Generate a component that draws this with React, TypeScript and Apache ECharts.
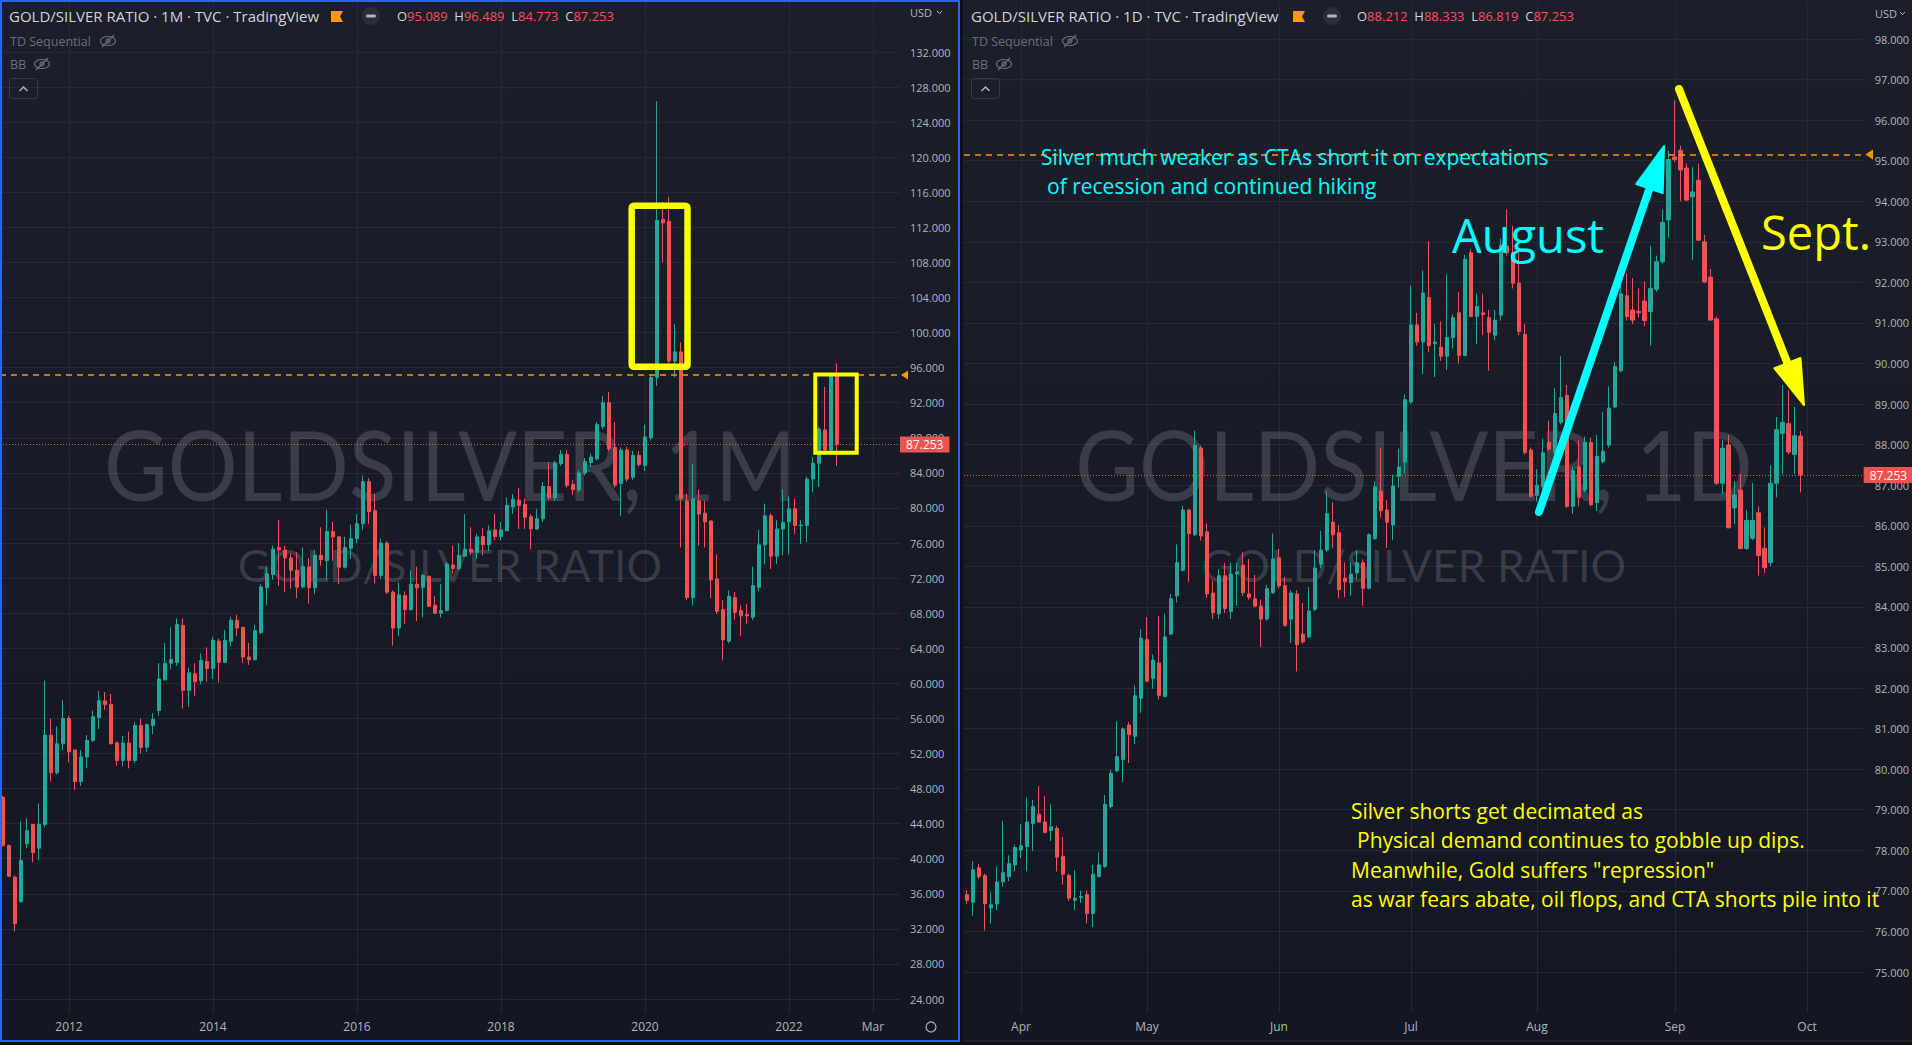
import React, { useEffect, useRef } from 'react';
import * as echarts from 'echarts';

// ---------------- DATA ----------------
// Monthly candles [open, high, low, close]  (Feb 2011 .. Sep 2022)
const m2011 = [
  [47.0, 47.2, 41.4, 41.5], [41.5, 41.6, 37.9, 38.0], [37.9, 38.1, 31.7, 32.6], [35.1, 44.3, 35.0, 39.8],
  [41.7, 44.6, 41.2, 43.2], [43.9, 43.9, 39.6, 40.7], [41.2, 46.3, 39.8, 43.9], [43.9, 60.3, 43.6, 54.1],
  [54.1, 56.0, 48.8, 49.8], [49.8, 55.1, 49.6, 53.1], [53.1, 58.1, 52.4, 56.0],
];
const m2012 = [
  [56.0, 56.3, 51.0, 52.2], [52.4, 52.4, 47.8, 48.8], [48.8, 52.4, 48.3, 51.6], [51.6, 54.1, 50.3, 53.5],
  [53.5, 56.9, 53.3, 56.2], [56.1, 59.1, 54.8, 58.0], [58.0, 59.0, 57.0, 57.6], [57.6, 58.8, 53.1, 53.1],
  [53.2, 53.4, 50.6, 51.2], [51.2, 54.0, 50.5, 53.2], [53.2, 54.5, 50.3, 51.2], [51.2, 55.6, 50.9, 55.2],
];
const m2013 = [
  [55.2, 56.0, 52.0, 52.7], [52.7, 55.4, 52.2, 55.3], [55.2, 56.6, 54.2, 55.9], [56.9, 62.3, 56.3, 60.5],
  [60.4, 64.6, 60.3, 62.3], [62.3, 66.4, 61.6, 62.7], [62.4, 67.4, 62.0, 66.7], [66.6, 67.4, 57.1, 59.2],
  [59.2, 61.8, 57.3, 61.2], [61.1, 62.3, 58.6, 60.2], [60.3, 63.4, 59.9, 62.6], [62.5, 64.1, 60.2, 61.7],
];
const m2014 = [
  [61.7, 65.3, 60.5, 64.9], [64.8, 65.1, 60.1, 62.4], [62.4, 66.1, 62.3, 64.9], [64.8, 67.6, 64.2, 67.2],
  [67.2, 67.8, 65.4, 66.3], [66.4, 66.4, 62.3, 63.0], [63.0, 64.6, 62.1, 62.7], [62.7, 66.7, 62.6, 66.0],
  [65.8, 71.3, 65.6, 71.0], [70.9, 73.3, 68.9, 72.5], [72.4, 75.7, 71.8, 75.3], [75.5, 78.6, 71.1, 75.2],
];
const m2015 = [
  [75.2, 75.7, 70.4, 74.3], [74.3, 74.8, 70.8, 72.9], [72.9, 74.96, 69.7, 70.96], [71.0, 75.5, 70.8, 73.3],
  [73.3, 74.3, 69.1, 70.9], [70.9, 75.2, 70.2, 74.6], [74.6, 77.8, 73.4, 74.1], [74.0, 79.8, 71.8, 77.3],
  [77.3, 78.4, 74.0, 76.7], [76.7, 76.8, 71.3, 73.25], [73.25, 76.7, 73.1, 75.5], [75.4, 78.1, 74.2, 76.5],
];
const m2016 = [
  [76.5, 79.3, 76.0, 78.2], [78.2, 83.7, 77.5, 83.0], [83.0, 83.4, 78.2, 79.6], [79.7, 81.6, 71.4, 72.3],
  [72.3, 76.5, 71.9, 76.0], [76.0, 76.2, 70.2, 70.4], [70.4, 70.6, 64.3, 66.3], [66.3, 71.5, 65.4, 70.1],
  [70.0, 70.5, 66.8, 68.4], [68.4, 72.9, 68.3, 71.3], [71.3, 73.3, 67.1, 70.9], [70.96, 72.5, 67.5, 72.3],
];
const m2017 = [
  [72.2, 72.3, 68.7, 68.8], [68.9, 70.0, 67.9, 68.0], [68.0, 71.3, 67.5, 68.3], [68.3, 73.8, 68.2, 73.6],
  [73.5, 75.7, 72.5, 73.1], [73.1, 76.0, 72.9, 74.6], [74.5, 79.3, 74.4, 75.3], [75.3, 77.8, 74.6, 74.96],
  [74.96, 77.05, 74.2, 76.7], [76.75, 77.7, 74.6, 75.8], [75.8, 78.0, 75.1, 77.4], [77.5, 79.3, 76.3, 76.75],
];
const m2018 = [
  [76.75, 78.4, 76.3, 77.5], [77.4, 81.2, 77.35, 80.3], [80.1, 81.6, 79.3, 81.0], [80.9, 82.3, 77.6, 80.3],
  [80.4, 81.05, 77.6, 78.95], [79.0, 79.3, 75.3, 77.6], [77.6, 79.9, 77.5, 78.76], [78.76, 82.95, 78.4, 82.45],
  [82.45, 85.2, 80.9, 81.16], [81.16, 85.4, 80.8, 85.1], [85.05, 86.6, 84.8, 86.1], [86.1, 86.6, 82.3, 82.57],
];
const m2019 = [
  [82.7, 83.2, 81.5, 82.07], [82.07, 84.3, 81.8, 84.0], [84.0, 85.7, 83.7, 85.3], [85.2, 86.2, 84.7, 85.8],
  [85.6, 89.8, 85.4, 89.5], [89.3, 92.8, 89.0, 92.0], [92.0, 93.2, 86.5, 86.75], [86.9, 89.8, 82.3, 82.6],
  [82.8, 86.9, 79.1, 86.6], [86.6, 87.0, 83.0, 83.3], [83.5, 86.5, 83.2, 86.0], [86.0, 86.5, 84.7, 84.96],
];
const m2020 = [
  [84.85, 89.5, 84.2, 88.1], [88.0, 95.2, 87.7, 94.9], [94.9, 126.4, 93.9, 112.8], [112.9, 114.9, 108.0, 112.5],
  [112.7, 115.5, 96.5, 96.76], [96.76, 101.0, 94.9, 97.8], [97.8, 98.9, 75.5, 81.05], [80.8, 81.6, 69.5, 69.8],
  [69.75, 85.0, 68.9, 81.05], [80.8, 82.1, 75.7, 79.3], [79.4, 80.8, 75.5, 78.4], [78.5, 78.6, 69.75, 71.8],
];
const m2021 = [
  [71.9, 74.7, 67.9, 68.2], [68.4, 69.5, 62.6, 64.95], [64.8, 70.6, 64.57, 69.9], [69.8, 70.4, 67.3, 68.1],
  [68.3, 68.9, 65.4, 67.7], [67.84, 69.06, 66.8, 67.7], [67.54, 73.3, 67.2, 71.15], [70.96, 77.5, 70.5, 75.8],
  [75.8, 80.5, 73.6, 79.1], [79.1, 79.4, 73.06, 74.5], [74.5, 78.6, 73.6, 77.6], [77.6, 82.1, 74.6, 78.35],
];
const m2022 = [
  [78.4, 81.3, 74.7, 79.9], [79.9, 81.05, 77.05, 78.0], [78.0, 78.6, 75.9, 78.05], [78.0, 83.6, 76.1, 83.3],
  [83.3, 85.8, 81.8, 85.1], [85.1, 89.3, 82.4, 89.0], [88.9, 93.8, 86.4, 86.6], [86.6, 95.1, 86.4, 95.0],
  [95.089, 96.489, 84.773, 87.253],
];

// Daily candles [open, high, low, close]  (21 Mar 2022 .. 30 Sep 2022, weekdays)
const dMar = [
  [76.91, 77.01, 76.68, 76.77], [76.72, 77.73, 76.39, 77.52], [77.57, 77.67, 77.29, 77.35], [77.38, 77.43, 76.02, 76.69],
  [76.58, 76.96, 76.2, 76.66], [76.68, 77.6, 76.53, 77.22], [77.22, 78.73, 77.1, 77.45], [77.35, 77.88, 77.24, 77.67],
  [77.64, 78.14, 77.48, 78.07],
];
const dApr = [
  [78.01, 78.64, 77.81, 78.11], [78.09, 79.3, 77.48, 78.7], [78.66, 79.24, 77.98, 79.08], [78.89, 79.58, 78.68, 78.7],
  [78.7, 79.34, 78.42, 78.44], [78.49, 79.13, 78.23, 78.58], [78.54, 78.61, 77.48, 77.83], [77.85, 78.33, 77.15, 77.41],
  [77.38, 77.43, 76.75, 76.82], [76.77, 77.51, 76.53, 76.82], [76.84, 77.0, 76.7, 76.86], [76.91, 77.01, 76.2, 76.44],
  [76.44, 77.64, 76.11, 77.41], [77.35, 77.95, 77.34, 77.64], [77.6, 79.36, 77.57, 79.13], [79.08, 79.98, 79.03, 79.9],
  [79.96, 81.18, 79.93, 80.31], [80.24, 81.03, 79.68, 80.99], [81.09, 81.16, 80.15, 80.85], [80.81, 82.07, 80.62, 81.81],
  [81.75, 83.45, 81.39, 83.23],
];
const dMay = [
  [83.2, 83.75, 82.15, 82.17], [82.24, 82.83, 81.98, 82.69], [82.62, 83.77, 81.72, 81.82], [81.79, 83.83, 81.77, 83.26],
  [83.33, 84.32, 83.3, 84.2], [84.27, 85.54, 84.11, 85.09], [84.9, 86.49, 84.88, 86.39], [86.39, 86.41, 84.62, 85.81],
  [85.78, 88.35, 85.75, 87.98], [87.92, 87.98, 85.64, 85.75], [85.85, 86.06, 84.22, 84.32], [84.34, 84.65, 83.7, 83.86],
  [83.83, 84.93, 83.7, 84.77], [84.77, 85.09, 83.85, 83.96], [83.89, 85.09, 83.7, 84.81], [84.81, 85.09, 84.03, 84.86],
  [85.03, 85.35, 84.27, 84.35], [84.32, 85.18, 84.18, 84.24], [84.2, 84.79, 83.99, 84.02], [84.02, 84.18, 83.02, 83.7],
  [83.7, 84.54, 83.66, 84.45], [84.35, 85.81, 84.32, 85.18],
];
const dJun = [
  [85.21, 85.43, 84.46, 84.52], [84.52, 84.74, 83.52, 83.54], [83.7, 84.41, 83.11, 84.34], [84.32, 84.41, 82.41, 83.07],
  [83.33, 84.1, 83.09, 83.14], [83.26, 84.49, 83.23, 83.9], [83.94, 85.4, 83.89, 84.96], [85.05, 85.87, 84.96, 85.4],
  [85.4, 86.86, 85.35, 86.3], [86.09, 86.58, 85.45, 85.78], [85.83, 86.02, 84.22, 84.43], [84.71, 85.09, 84.24, 84.62],
  [84.6, 85.09, 84.27, 84.81], [84.84, 85.4, 84.69, 85.09], [85.09, 85.17, 84.03, 84.46], [84.46, 85.81, 84.43, 85.78],
  [85.68, 87.1, 85.66, 86.96], [86.86, 87.92, 86.2, 86.37], [86.39, 86.63, 85.45, 86.09], [86.02, 87.26, 85.64, 86.98],
  [87.22, 87.9, 86.94, 87.45], [87.57, 89.24, 87.29, 89.11],
];
const dJul = [
  [89.05, 91.92, 89.01, 90.95], [90.95, 91.25, 90.44, 90.53], [90.53, 92.29, 89.74, 91.74], [91.63, 93.01, 90.28, 90.44],
  [90.49, 90.97, 89.67, 90.53], [90.4, 91.04, 90.07, 90.18], [90.18, 92.2, 89.84, 90.64], [90.64, 91.21, 90.37, 91.13],
  [91.25, 91.76, 90.0, 90.2], [90.2, 92.68, 90.18, 92.57], [92.73, 92.82, 91.14, 91.16], [91.16, 91.72, 90.48, 91.41],
  [91.25, 91.72, 90.7, 91.21], [91.13, 91.32, 89.82, 90.77], [90.7, 91.32, 90.57, 91.07], [91.19, 93.08, 91.06, 92.92],
  [92.9, 93.8, 92.66, 92.73], [92.73, 93.39, 91.85, 91.98], [91.98, 92.73, 90.7, 90.79], [90.72, 90.97, 87.76, 87.8],
  [87.87, 87.93, 86.7, 86.73],
];
const dAug = [
  [86.75, 87.4, 86.6, 87.0], [86.96, 88.15, 86.79, 87.8], [88.06, 88.59, 87.84, 87.89], [87.8, 89.4, 87.76, 88.77],
  [88.55, 90.18, 88.5, 89.16], [89.21, 89.47, 86.44, 86.48], [86.48, 87.45, 86.29, 87.36], [87.45, 88.11, 86.48, 86.7],
  [86.88, 88.2, 86.83, 88.06], [88.05, 88.17, 86.48, 86.52], [86.57, 88.24, 86.37, 87.71], [87.58, 88.81, 87.54, 87.84],
  [87.99, 89.43, 87.93, 88.9], [88.93, 90.04, 88.9, 89.93], [89.82, 92.2, 89.78, 91.72], [91.67, 92.22, 91.06, 91.16],
  [91.32, 92.11, 90.97, 91.07], [91.29, 91.85, 91.14, 91.25], [91.54, 92.02, 90.92, 91.06], [91.28, 92.9, 90.44, 91.85],
  [91.83, 92.66, 91.76, 92.51], [92.51, 93.8, 92.46, 93.48], [93.54, 95.25, 93.1, 95.03],
];
const dSep = [
  [95.089, 96.489, 94.97, 95.03], [95.26, 95.37, 94.0, 94.77], [94.82, 94.93, 94.0, 94.03], [94.11, 94.84, 92.55, 94.23],
  [94.52, 94.93, 93.04, 93.04], [93.0, 93.17, 91.98, 92.01], [92.13, 92.33, 91.06, 91.07], [91.1, 91.16, 87.01, 87.05],
  [87.05, 88.11, 86.79, 87.91], [87.99, 88.24, 85.94, 85.95], [86.44, 87.1, 86.04, 86.76], [86.88, 87.27, 85.42, 85.44],
  [85.44, 86.39, 85.41, 86.13], [85.69, 87.05, 85.64, 86.13], [86.32, 86.48, 84.773, 85.27], [85.44, 85.96, 84.83, 84.97],
  [85.09, 87.49, 85.0, 87.05], [87.05, 88.68, 86.7, 88.37], [88.28, 89.47, 87.27, 88.55], [88.52, 89.34, 87.76, 87.82],
  [87.76, 88.93, 87.27, 88.22], [88.212, 88.333, 86.819, 87.253],
];

const monthlyOHLC = [...m2011, ...m2012, ...m2013, ...m2014, ...m2015, ...m2016, ...m2017, ...m2018, ...m2019, ...m2020, ...m2021, ...m2022];
const dailyOHLC = [...dMar, ...dApr, ...dMay, ...dJun, ...dJul, ...dAug, ...dSep];

// Time-axis tick labels
const monthlyTickLabels: Record<string, string> = {
  '2012-01': '2012', '2014-01': '2014', '2016-01': '2016', '2018-01': '2018',
  '2020-01': '2020', '2022-01': '2022', '2023-03': 'Mar',
};
const dailyTickLabels: Record<string, string> = {
  '2022-04-01': 'Apr', '2022-05-02': 'May', '2022-06-01': 'Jun', '2022-07-01': 'Jul',
  '2022-08-01': 'Aug', '2022-09-01': 'Sep', '2022-10-03': 'Oct',
};
// Price scales
const leftScale = { min: 24, max: 132, step: 4 };
const rightScale = { min: 75, max: 98, step: 1 };
const alertLevel = 95.15;

// ---------------- HELPERS ----------------
function monthCategories(y0: number, m0: number, count: number): string[] {
  const out: string[] = [];
  let y = y0, m = m0;
  for (let i = 0; i < count; i++) {
    out.push(`${y}-${String(m).padStart(2, '0')}`);
    m++;
    if (m > 12) { m = 1; y++; }
  }
  return out;
}
function weekdayCategories(start: string, count: number): string[] {
  const out: string[] = [];
  const d = new Date(start + 'T00:00:00Z');
  while (out.length < count) {
    const wd = d.getUTCDay();
    if (wd !== 0 && wd !== 6) out.push(d.toISOString().slice(0, 10));
    d.setUTCDate(d.getUTCDate() + 1);
  }
  return out;
}
const toCandle = (r: number[]) => [r[0], r[3], r[2], r[1]];

const monthCats = monthCategories(2011, 2, 150);
const dayCats = weekdayCategories('2022-03-21', 150);

const UP = '#26a69a';
const DOWN = '#ef5350';
const GRIDC = '#252934';
const AXISC = '#b2b5be';
const FONT = '"Open Sans", "Noto Sans", sans-serif';

function frameX(gridIndex: number, cats: string[], labels: Record<string, string>) {
  const pick = (_i: number, v: string) => Object.prototype.hasOwnProperty.call(labels, v);
  return {
    gridIndex, type: 'category', data: cats, boundaryGap: false,
    axisLine: { show: false }, axisTick: { show: false },
    axisLabel: {
      interval: pick, formatter: (v: string) => labels[v] || '',
      color: AXISC, fontSize: 12, fontFamily: FONT, margin: 7,
    },
    splitLine: { show: true, interval: pick, lineStyle: { color: GRIDC, width: 1 } },
  };
}
function priceY(gridIndex: number, sc: { min: number; max: number; step: number }, margin: number) {
  return {
    gridIndex, type: 'value', position: 'right', min: sc.min, max: sc.max, interval: sc.step,
    axisLine: { show: false }, axisTick: { show: false },
    axisLabel: { formatter: (v: number) => v.toFixed(3), color: AXISC, fontSize: 11, fontFamily: FONT, margin },
    splitLine: { show: true, lineStyle: { color: GRIDC, width: 1 } },
  };
}
function candleSeries(xi: number, yi: number, rows: number[][]) {
  const last = rows[rows.length - 1][3];
  return {
    type: 'candlestick', xAxisIndex: xi, yAxisIndex: yi, data: rows.map(toCandle), barWidth: 4,
    itemStyle: { color: UP, color0: DOWN, borderColor: UP, borderColor0: DOWN, borderWidth: 1 },
    markLine: {
      silent: true, symbol: ['none', 'none'], animation: false,
      data: [
        { yAxis: alertLevel, lineStyle: { color: '#ff9800', type: [6, 5], width: 1.5 }, label: { show: false } },
        {
          yAxis: last, lineStyle: { color: DOWN, type: [1, 2], width: 1 },
          label: {
            show: true, position: 'end', distance: 0, formatter: last.toFixed(3), color: '#ffffff',
            backgroundColor: DOWN, padding: [2, 6, 2, 6], fontSize: 12, fontFamily: FONT,
          },
        },
      ],
    },
  };
}

function txt(x: number, y: number, text: string, size: number, fill: string, extra: any = {}) {
  return {
    type: 'text', x, y, z: 10, silent: true,
    style: { text, fill, font: `${size}px ${FONT}`, textAlign: 'left', textVerticalAlign: 'middle', ...(extra.style || {}) },
    ...(extra.el || {}),
  };
}
function arrow(x1: number, y1: number, x2: number, y2: number, color: string, width: number, headLen: number, headHalf: number) {
  const dx = x2 - x1, dy = y2 - y1, L = Math.hypot(dx, dy), ux = dx / L, uy = dy / L;
  const bx = x2 - ux * headLen, by = y2 - uy * headLen;
  const px = -uy, py = ux;
  return [
    { type: 'line', z: 12, silent: true, shape: { x1, y1, x2: bx + ux * 3, y2: by + uy * 3 }, style: { stroke: color, lineWidth: width, lineCap: 'round' } },
    {
      type: 'polygon', z: 12, silent: true,
      shape: { points: [[x2, y2], [bx + px * headHalf, by + py * headHalf], [bx - px * headHalf, by - py * headHalf]] },
      style: { fill: color, stroke: color, lineWidth: 2, lineJoin: 'round' },
    },
  ];
}
function eye(cx: number, cy: number) {
  return [
    { type: 'ellipse', z: 10, silent: true, shape: { cx, cy, rx: 7.5, ry: 4.5 }, style: { fill: 'none', stroke: '#6b6f7b', lineWidth: 1.2 } },
    { type: 'circle', z: 10, silent: true, shape: { cx, cy, r: 2 }, style: { fill: 'none', stroke: '#6b6f7b', lineWidth: 1.2 } },
    { type: 'line', z: 10, silent: true, shape: { x1: cx - 6, y1: cy + 6, x2: cx + 6, y2: cy - 6 }, style: { stroke: '#6b6f7b', lineWidth: 1.2 } },
  ];
}
function header(x0: number, title: string, row: number[], flagX: number, circX: number, ohlcX: number) {
  const els: any[] = [];
  els.push(txt(x0, 16, title, 15, '#d1d4dc'));
  els.push({
    type: 'polygon', z: 10, silent: true,
    shape: { points: [[flagX, 11], [flagX + 12, 11], [flagX + 9, 16.5], [flagX + 12, 22], [flagX, 22]] },
    style: { fill: '#ff9800' },
  });
  els.push({ type: 'circle', z: 10, silent: true, shape: { cx: circX, cy: 16, r: 9 }, style: { fill: '#2a2e39' } });
  els.push({ type: 'rect', z: 11, silent: true, shape: { x: circX - 5, y: 14.5, width: 10, height: 3, r: 1.5 }, style: { fill: '#b2b5be' } });
  const [o, h, l, c] = row;
  els.push({
    type: 'text', x: ohlcX, y: 16, z: 10, silent: true,
    style: {
      text: `{l|O}{v|${o.toFixed(3)}}  {l|H}{v|${h.toFixed(3)}}  {l|L}{v|${l.toFixed(3)}}  {l|C}{v|${c.toFixed(3)}}`,
      textVerticalAlign: 'middle',
      rich: {
        l: { fill: '#d1d4dc', fontSize: 13, fontFamily: FONT },
        v: { fill: '#f7525f', fontSize: 13, fontFamily: FONT },
      },
    },
  });
  els.push(txt(x0 + 1, 41, 'TD Sequential', 12.5, '#6b6f7b'));
  els.push(...eye(x0 + 99, 41));
  els.push(txt(x0 + 1, 64, 'BB', 12.5, '#6b6f7b'));
  els.push(...eye(x0 + 33, 64));
  els.push({ type: 'rect', z: 10, silent: true, shape: { x: x0 + 0.5, y: 78.5, width: 28, height: 20, r: 3 }, style: { fill: 'none', stroke: '#363a45', lineWidth: 1 } });
  els.push({ type: 'polyline', z: 10, silent: true, shape: { points: [[x0 + 10.5, 91], [x0 + 14.5, 87], [x0 + 18.5, 91]] }, style: { stroke: '#b2b5be', lineWidth: 1.5, fill: 'none' } });
  return els;
}

function buildGraphics(yAlertL: number, yAlertR: number) {
  const grad = () => new echarts.graphic.LinearGradient(0, 0, 0, 1, [
    { offset: 0, color: '#1b1f2a' }, { offset: 1, color: '#131722' },
  ]);
  const els: any[] = [];
  els.push({ type: 'rect', z: -10, silent: true, shape: { x: 0, y: 0, width: 960, height: 1042 }, style: { fill: grad() } });
  els.push({ type: 'rect', z: -10, silent: true, shape: { x: 963, y: 0, width: 949, height: 1042 }, style: { fill: grad() } });
  els.push({ type: 'line', z: -9, silent: true, shape: { x1: 963, y1: 1041, x2: 1912, y2: 1041 }, style: { stroke: '#2a2e39', lineWidth: 1 } });

  // watermarks
  const wm = 'rgba(178,181,190,0.22)';
  const wmText = (cx: number, y: number, t: string, size: number, sx: number) => ({
    type: 'text', x: cx, y, z: 1, silent: true, scaleX: sx,
    style: { text: t, fill: wm, font: `${size}px Lato, "Open Sans", sans-serif`, textAlign: 'center', textVerticalAlign: 'middle' },
  });
  els.push(wmText(450, 464, 'GOLDSILVER, 1M', 96, 0.91));
  els.push(wmText(450, 564, 'GOLD/SILVER RATIO', 44.5, 1));
  els.push(wmText(1414, 464, 'GOLDSILVER, 1D', 96, 0.91));
  els.push(wmText(1414, 564, 'GOLD/SILVER RATIO', 44.5, 1));

  // headers
  els.push(...header(9, 'GOLD/SILVER RATIO · 1M · TVC · TradingView', monthlyOHLC[monthlyOHLC.length - 1], 331, 371, 397));
  els.push(...header(971, 'GOLD/SILVER RATIO · 1D · TVC · TradingView', dailyOHLC[dailyOHLC.length - 1], 1293, 1332, 1357));

  // USD labels
  els.push(txt(910, 12, 'USD', 11, AXISC));
  els.push({ type: 'polyline', z: 10, silent: true, shape: { points: [[937, 11], [939.5, 13.5], [942, 11]] }, style: { stroke: AXISC, lineWidth: 1, fill: 'none' } });
  els.push(txt(1875, 13, 'USD', 11, AXISC));
  els.push({ type: 'polyline', z: 10, silent: true, shape: { points: [[1900, 12], [1902.5, 14.5], [1905, 12]] }, style: { stroke: AXISC, lineWidth: 1, fill: 'none' } });
  // gear
  els.push({ type: 'circle', z: 10, silent: true, shape: { cx: 931, cy: 1027, r: 5 }, style: { fill: 'none', stroke: AXISC, lineWidth: 1.2 } });

  // alert triangles
  els.push({ type: 'polygon', z: 10, silent: true, shape: { points: [[901, yAlertL], [908, yAlertL - 4.5], [908, yAlertL + 4.5]] }, style: { fill: '#ff9800' } });
  els.push({ type: 'polygon', z: 10, silent: true, shape: { points: [[1865.5, yAlertR], [1873, yAlertR - 5], [1873, yAlertR + 5]] }, style: { fill: '#ff9800' } });

  // yellow boxes on the monthly chart
  els.push({ type: 'rect', z: 12, silent: true, shape: { x: 631.7, y: 205.8, width: 55.8, height: 161, r: 2 }, style: { fill: 'none', stroke: '#ffff00', lineWidth: 6.5 } });
  els.push({ type: 'rect', z: 12, silent: true, shape: { x: 815.3, y: 374.5, width: 41.4, height: 78.2 }, style: { fill: 'none', stroke: '#ffff00', lineWidth: 4 } });

  // annotations on the daily chart
  const CY = '#00ffff', YE = '#ffff00';
  els.push(txt(1041, 157, 'Silver much weaker as CTAs short it on expectations', 21, CY));
  els.push(txt(1047, 186, 'of recession and continued hiking', 21, CY));
  els.push(txt(1452, 235, 'August', 47, CY));
  els.push(txt(1761, 232, 'Sept.', 47, YE));
  els.push(txt(1351, 811, 'Silver shorts get decimated as', 21, YE));
  els.push(txt(1357, 840, 'Physical demand continues to gobble up dips.', 21, YE));
  els.push(txt(1351, 870, 'Meanwhile, Gold suffers "repression"', 21, YE));
  els.push(txt(1351, 899, 'as war fears abate, oil flops, and CTA shorts pile into it', 21, YE));
  els.push(...arrow(1539, 512, 1664, 146, CY, 8, 45, 14));
  els.push(...arrow(1679, 89, 1804, 405, YE, 8, 45, 14));

  // left pane border
  els.push({ type: 'rect', z: 20, silent: true, shape: { x: 1, y: 1, width: 958, height: 1040 }, style: { fill: 'none', stroke: '#2962ff', lineWidth: 2 } });
  return els;
}

export default function App() {
  const ref = useRef<HTMLDivElement>(null);
  useEffect(() => {
    if (!ref.current) return;
    const chart = echarts.init(ref.current, undefined, { renderer: 'svg' });
    const option: any = {
      animation: false,
      backgroundColor: 'transparent',
      grid: [
        { left: 3, top: 2, width: 894, height: 1011 },
        { left: 0, top: 52, width: 900, height: 947 },
        { left: 967, top: 2, width: 894, height: 1011 },
        { left: 964, top: 39, width: 900, height: 933 },
      ],
      xAxis: [
        frameX(0, monthCats, monthlyTickLabels),
        { gridIndex: 1, type: 'category', data: monthCats, show: false },
        frameX(2, dayCats, dailyTickLabels),
        { gridIndex: 3, type: 'category', data: dayCats, show: false },
      ],
      yAxis: [
        { gridIndex: 0, type: 'value', show: false, min: 0, max: 1 },
        priceY(1, leftScale, 10),
        { gridIndex: 2, type: 'value', show: false, min: 0, max: 1 },
        priceY(3, rightScale, 11),
      ],
      series: [
        candleSeries(1, 1, monthlyOHLC),
        candleSeries(3, 3, dailyOHLC),
      ],
    };
    chart.setOption(option);
    const yL = chart.convertToPixel({ yAxisIndex: 1 } as any, alertLevel) as unknown as number;
    const yR = chart.convertToPixel({ yAxisIndex: 3 } as any, alertLevel) as unknown as number;
    chart.setOption({ graphic: buildGraphics(yL, yR) });
    return () => chart.dispose();
  }, []);
  return (
    <div
      ref={ref}
      style={{ position: 'fixed', left: 0, top: 0, width: 1912, height: 1045, background: '#0e1016' }}
    />
  );
}
